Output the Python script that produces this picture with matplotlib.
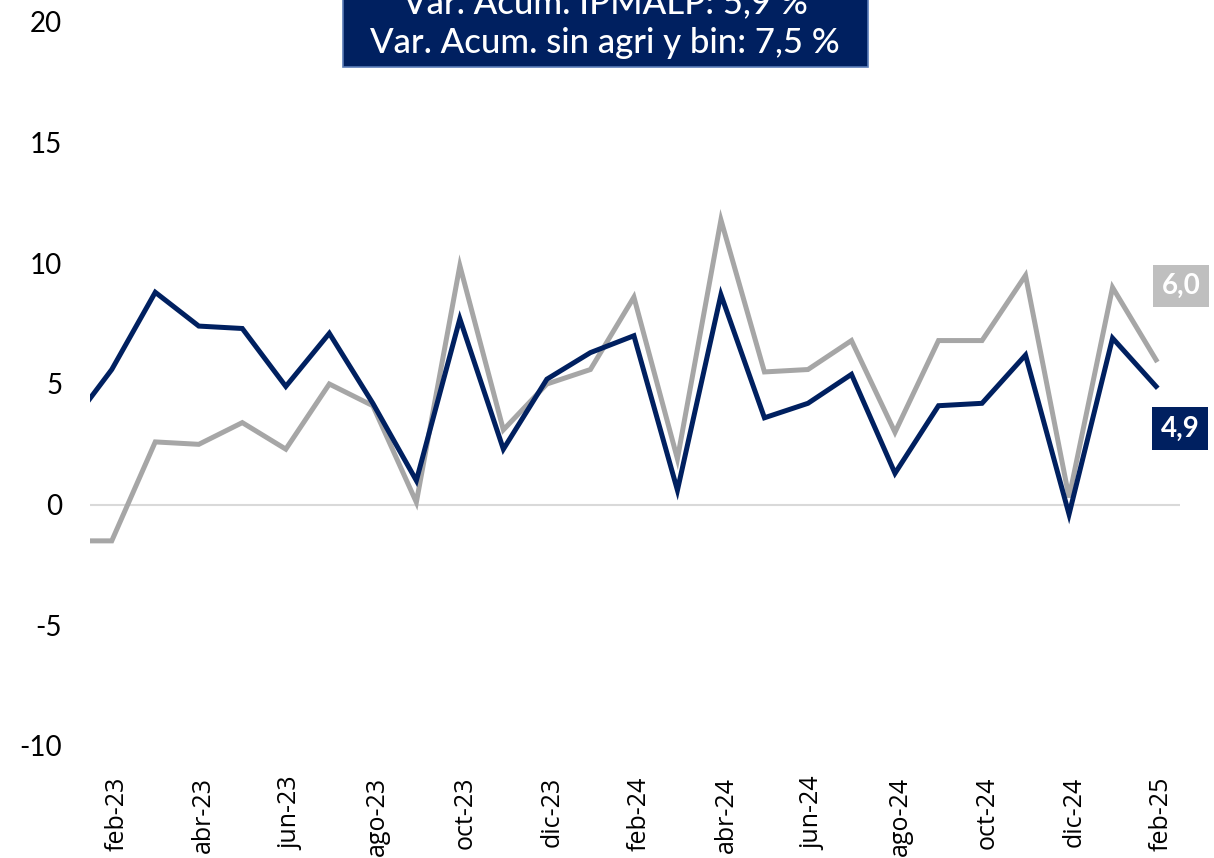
import matplotlib.pyplot as plt
from matplotlib.patches import Rectangle
from matplotlib.transforms import ScaledTranslation

# monthly data, jan-23 .. feb-25
months = ["ene-23", "feb-23", "mar-23", "abr-23", "may-23", "jun-23", "jul-23", "ago-23",
          "sep-23", "oct-23", "nov-23", "dic-23", "ene-24", "feb-24", "mar-24", "abr-24",
          "may-24", "jun-24", "jul-24", "ago-24", "sep-24", "oct-24", "nov-24", "dic-24",
          "ene-25", "feb-25"]
ipmalp = [3.2, 5.6, 8.8, 7.4, 7.3, 4.9, 7.1, 4.2, 1.0, 7.7, 2.3, 5.2, 6.3,
          7.0, 0.6, 8.7, 3.6, 4.2, 5.4, 1.3, 4.1, 4.2, 6.2, -0.4, 6.9, 4.9]
sin_agri = [-1.5, -1.5, 2.6, 2.5, 3.4, 2.3, 5.0, 4.1, 0.1, 9.9, 3.1, 5.0, 5.6,
            8.6, 1.9, 11.8, 5.5, 5.6, 6.8, 3.0, 6.8, 6.8, 9.5, 0.3, 9.0, 6.0]
title_lines = ["Var. Acum. IPMALP: 5,9 %", "Var. Acum. sin agri y bin: 7,5 %"]

navy = "#002060"
grey = "#A6A6A6"

W, H = 1214, 858
fig = plt.figure(figsize=(W / 100, H / 100), dpi=100)
ax = fig.add_axes([90 / W, (H - 746) / H, 1090 / W, 724 / H])

x = list(range(len(months)))
ax.axhline(0, color="#D9D9D9", lw=1.5, zorder=1)
ax.plot(x, ipmalp, color=navy, lw=3.6, solid_joinstyle="miter", zorder=3)
ax.plot(x, sin_agri, color=grey, lw=3.6, solid_joinstyle="miter", zorder=2)

ax.set_xlim(0.5, 25.55)
ax.set_ylim(-10, 20)
ax.set_yticks([-10, -5, 0, 5, 10, 15, 20])
ax.set_yticklabels(["-10", "-5", "0", "5", "10", "15", "20"], fontsize=20, family="Lato")
ax.set_xticks(x[1::2])
ax.set_xticklabels(months[1::2], rotation=90, fontsize=18, family="Open Sans")
ax.tick_params(length=0)
ax.tick_params(axis="y", pad=20)
ax.tick_params(axis="x", pad=22)
shift = ScaledTranslation(5 / 100, 0, fig.dpi_scale_trans)
for lab in ax.get_xticklabels():
    lab.set_transform(lab.get_transform() + shift)
for s in ax.spines.values():
    s.set_visible(False)

# end-of-series value labels
ax.annotate("6,0", (x[-1], sin_agri[-1]), xytext=(25, 74), textcoords="offset pixels",
            ha="center", va="center", color="white", fontsize=20, fontweight="bold",
            family="Lato", annotation_clip=False,
            bbox=dict(boxstyle="square,pad=0.3", fc="#BFBFBF", ec="none"))
ax.annotate("4,9", (x[-1], ipmalp[-1]), xytext=(24, -42), textcoords="offset pixels",
            ha="center", va="center", color="white", fontsize=20, fontweight="bold",
            family="Lato", annotation_clip=False,
            bbox=dict(boxstyle="square,pad=0.3", fc=navy, ec="none"))

# title box, partly cut off at the top
fig.patches.append(Rectangle((343 / W, 1 - 67 / H), 525 / W, 100 / H, transform=fig.transFigure,
                             facecolor=navy, edgecolor="#5B7DB8", lw=1.2, zorder=5))
fig.text(605 / W, 1 - 13 / H, title_lines[0], ha="center", va="baseline", color="white",
         fontsize=25, family="Lato", fontweight="medium", zorder=6)
fig.text(605 / W, 1 - 53 / H, title_lines[1], ha="center", va="baseline", color="white",
         fontsize=25, family="Lato", fontweight="medium", zorder=6)

fig.savefig("out.png", dpi=100)
